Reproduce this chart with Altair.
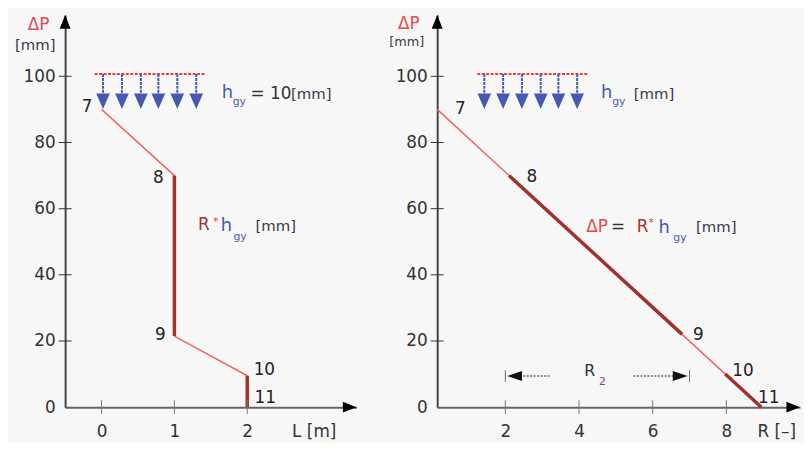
import altair as alt
import pandas as pd

# ---------------- data ----------------
point_names = ["7", "8", "9", "10", "11"]
left_L = [0, 1, 1, 2, 2]
left_dP = [90, 70, 21.5, 9.5, 0]
right_R = [0.15, 2.1, 6.8, 7.97, 8.95]
right_dP = [90, 70, 22, 10, 0]
segment_kind = ["thin", "thick", "thin", "thick"]

left_xticks = [0, 1, 2]
right_xticks = [2, 4, 6, 8]
y_ticks = [0, 20, 40, 60, 80, 100]
y_cross_ticks = [20, 40, 60, 80, 100]

left_domain = [-0.5, 3.5]
right_domain = [0.15, 10]
y_domain = [0, 118.5]

# h_gy load arrows
hgy_level = 100.7
hgy_tip = 90.1
hgy_left_x = [0.02, 0.28, 0.54, 0.78, 1.04, 1.30]
hgy_left_span = [-0.095, 1.43]
hgy_right_x = [1.43, 1.94, 2.45, 2.96, 3.44, 3.95]
hgy_right_span = [1.24, 4.25]

# point-number label anchors (data units)
left_label_x = [-0.197, 0.781, 0.808, 2.235, 2.248]
left_label_y = [90.7, 69.4, 21.8, 11.1, 2.7]
right_label_x = [0.782, 2.717, 7.24, 8.45, 9.15]
right_label_y = [90.1, 69.7, 21.8, 10.8, 2.7]

# R2 range annotation
r2_range = [2.0, 7.0]
r2_level = 9.4
r2_shaft_left = [2.3, 3.2]
r2_shaft_right = [5.48, 6.7]

# annotation texts: (text, role, x, y)
left_notes = [
    ("ΔP", "red", -1.012, 114.0),
    ("[mm]", "mm", -1.189, 108.0),
    ("h", "blue", 1.651, 93.4),
    ("gy", "sub", 1.80, 91.3),
    ("= 10", "dark", 2.045, 93.1),
    ("[mm]", "mm", 2.60, 93.1),
    ("R", "darkred", 1.325, 53.6),
    ("*", "star", 1.529, 55.1),
    ("h", "blue", 1.637, 53.3),
    ("gy", "sub", 1.81, 50.6),
    ("[mm]", "mm", 2.113, 53.3),
]
right_notes = [
    ("ΔP", "red", -0.912, 114.3),
    ("[mm]", "mm13", -1.153, 109.2),
    ("h", "blue", 4.598, 93.4),
    ("gy", "sub", 4.90, 91.3),
    ("[mm]", "mm", 5.485, 93.1),
    ("ΔP", "red", 4.195, 53.0),
    ("=", "dark", 4.867, 53.0),
    ("R", "darkred", 5.566, 53.0),
    ("*", "star", 5.888, 54.8),
    ("h", "blue", 6.157, 52.7),
    ("gy", "sub", 6.56, 50.3),
    ("[mm]", "mm", 7.178, 53.0),
    ("R", "dark16", 4.14, 9.3),
    ("2", "r2sub", 4.544, 6.6),
]
left_axis_title = ("L [m]", 2.616, -7.5)
right_axis_title = ("R [–]", 8.844, -7.5)

# ---------------- styles ----------------
FONT = "DejaVu Sans"
role_color = {"red": "#e84a4a", "mm": "#3a3a4a", "mm13": "#3a3a4a", "blue": "#4658b0",
              "sub": "#4a5cb4", "dark": "#333333", "darkred": "#a8302c", "star": "#c84848",
              "dark16": "#333333", "r2sub": "#8a4070"}
role_size = {"red": 17, "mm": 15, "mm13": 13, "blue": 18, "sub": 11, "dark": 17,
             "darkred": 17, "star": 11, "dark16": 16, "r2sub": 11}
seg_color = {"thin": "#ef6565", "thick": "#a3302a"}
seg_width = {"thin": 1.5, "thick": 3.5}

BLUE = "#4658b0"
HEAD_DOWN = "M0,0 L-1,-2.3 L1,-2.3 Z"
ARROW_UP = "M0,0 L-1,2.5 L1,2.5 Z"
ARROW_RIGHT = "M0,0 L-2.5,-1 L-2.5,1 Z"
HEAD_LEFT = "M0,0 L3,-1 L3,1 Z"
HEAD_RIGHT = "M0,0 L-3,-1 L-3,1 Z"

Y_RANGE = [401, 5]


def panel(xs, dps, domain, xrange, xticks, y_offset, x_offset, labels_x, labels_y,
          hgy_x, hgy_span, notes, axis_title, extra=None):
    xscale = alt.Scale(domain=domain, range=xrange, nice=False, zero=False)
    yscale = alt.Scale(domain=y_domain, range=Y_RANGE, nice=False, zero=False)
    xaxis = alt.Axis(values=xticks, orient="bottom", offset=x_offset, title=None, grid=False,
                     ticks=False, tickSize=0, domainColor="#666666", domainWidth=2,
                     labelFont=FONT, labelFontSize=17, labelColor="#333333",
                     labelPadding=25, labelBaseline="middle", labelFlush=False)
    yaxis = alt.Axis(values=y_ticks, orient="left", offset=y_offset, title=None, grid=False,
                     ticks=False, tickSize=0, domainColor="#444444", domainWidth=2,
                     labelFont=FONT, labelFontSize=17, labelColor="#333333",
                     labelPadding=10, labelFlush=False)
    X = alt.X("x:Q", scale=xscale, axis=xaxis)
    Y = alt.Y("y:Q", scale=yscale, axis=yaxis)

    seg = pd.DataFrame({
        "x": xs[:-1], "y": dps[:-1], "x2": xs[1:], "y2": dps[1:],
        "c": [seg_color[k] for k in segment_kind],
        "w": [seg_width[k] for k in segment_kind],
    })
    layers = []
    layers.append(alt.Chart(seg).mark_rule(strokeCap="butt").encode(
        x=X, y=Y, x2="x2:Q", y2="y2:Q",
        color=alt.Color("c:N", scale=None), strokeWidth=alt.StrokeWidth("w:Q", scale=None)))

    # axis cross ticks
    yt = pd.DataFrame({"x": [domain[0]] * len(y_cross_ticks), "y": y_cross_ticks})
    layers.append(alt.Chart(yt).mark_tick(orient="horizontal", size=13, thickness=1,
                                          color="#333333", opacity=1).encode(x=X, y=Y))
    xt = pd.DataFrame({"x": xticks, "y": [0] * len(xticks)})
    layers.append(alt.Chart(xt).mark_tick(orient="vertical", size=14, thickness=1,
                                          color="#777777", opacity=1).encode(x=X, y=Y))
    # axis arrowheads
    layers.append(alt.Chart(pd.DataFrame({"x": [domain[0]], "y": [y_domain[1]]})).mark_point(
        shape=ARROW_UP, filled=True, size=121, color="#000000", opacity=1).encode(x=X, y=Y))
    layers.append(alt.Chart(pd.DataFrame({"x": [domain[1]], "y": [0]})).mark_point(
        shape=ARROW_RIGHT, filled=True, size=121, color="#000000", opacity=1).encode(x=X, y=Y))

    # h_gy load
    layers.append(alt.Chart(pd.DataFrame({"x": [hgy_span[0]], "x2": [hgy_span[1]], "y": [hgy_level]}))
                  .mark_rule(color="#ee3b3b", strokeWidth=2, strokeDash=[3, 1.5])
                  .encode(x=X, x2="x2:Q", y=Y))
    shafts = pd.DataFrame({"x": hgy_x, "y": [hgy_level] * len(hgy_x), "y2": [hgy_tip + 4] * len(hgy_x)})
    layers.append(alt.Chart(shafts).mark_rule(color=BLUE, strokeWidth=2, strokeDash=[3, 1])
                  .encode(x=X, y=Y, y2="y2:Q"))
    heads = pd.DataFrame({"x": hgy_x, "y": [hgy_tip] * len(hgy_x)})
    layers.append(alt.Chart(heads).mark_point(shape=HEAD_DOWN, filled=True, size=190,
                                              color=BLUE, opacity=1).encode(x=X, y=Y))

    if extra is not None:
        layers.extend(extra(X, Y))

    # point numbers
    lab = pd.DataFrame({"x": labels_x, "y": labels_y, "t": point_names})
    layers.append(alt.Chart(lab).mark_text(font=FONT, fontSize=17, color="#222222",
                                           align="center", baseline="middle")
                  .encode(x=X, y=Y, text="t:N"))
    # annotations
    nd = pd.DataFrame({
        "t": [n[0] for n in notes], "x": [n[2] for n in notes], "y": [n[3] for n in notes],
        "c": [role_color[n[1]] for n in notes], "s": [role_size[n[1]] for n in notes],
    })
    layers.append(alt.Chart(nd).mark_text(font=FONT, align="left", baseline="alphabetic")
                  .encode(x=X, y=Y, text="t:N", color=alt.Color("c:N", scale=None),
                          size=alt.Size("s:Q", scale=None)))
    at = pd.DataFrame({"t": [axis_title[0]], "x": [axis_title[1]], "y": [axis_title[2]]})
    layers.append(alt.Chart(at).mark_text(font=FONT, fontSize=17, color="#333333",
                                          align="left", baseline="middle")
                  .encode(x=X, y=Y, text="t:N"))
    return alt.layer(*layers)


def r2_layers(X, Y):
    out = []
    br = pd.DataFrame({"x": r2_range, "y": [r2_level] * 2})
    out.append(alt.Chart(br).mark_tick(orient="vertical", size=12, thickness=1,
                                       color="#666666", opacity=1).encode(x=X, y=Y))
    sh = pd.DataFrame({"x": [r2_shaft_left[0], r2_shaft_right[0]],
                       "x2": [r2_shaft_left[1], r2_shaft_right[1]], "y": [r2_level] * 2})
    out.append(alt.Chart(sh).mark_rule(color="#666666", strokeWidth=1.5, strokeDash=[2, 1.5])
               .encode(x=X, x2="x2:Q", y=Y))
    out.append(alt.Chart(pd.DataFrame({"x": [r2_range[0] + 0.05], "y": [r2_level]})).mark_point(
        shape=HEAD_LEFT, filled=True, size=100, color="#111111", opacity=1).encode(x=X, y=Y))
    out.append(alt.Chart(pd.DataFrame({"x": [r2_range[1] - 0.05], "y": [r2_level]})).mark_point(
        shape=HEAD_RIGHT, filled=True, size=100, color="#111111", opacity=1).encode(x=X, y=Y))
    return out


left = panel(left_L, left_dP, left_domain, [57.7, 352], left_xticks, -57.7, -34,
             left_label_x, left_label_y, hgy_left_x, hgy_left_span, left_notes, left_axis_title)
right = panel(right_R, right_dP, right_domain, [433.5, 800], right_xticks, -433.5, -34,
              right_label_x, right_label_y, hgy_right_x, hgy_right_span, right_notes,
              right_axis_title, extra=r2_layers)

chart = (
    alt.layer(left, right)
    .resolve_scale(x="independent", y="independent")
    .resolve_axis(x="independent", y="independent")
    .properties(width=804, height=435, padding=0, background="#f7f7f7")
    .configure_view(stroke=None)
)

chart.save("out.html", embed_options={"renderer": "svg", "actions": False})
